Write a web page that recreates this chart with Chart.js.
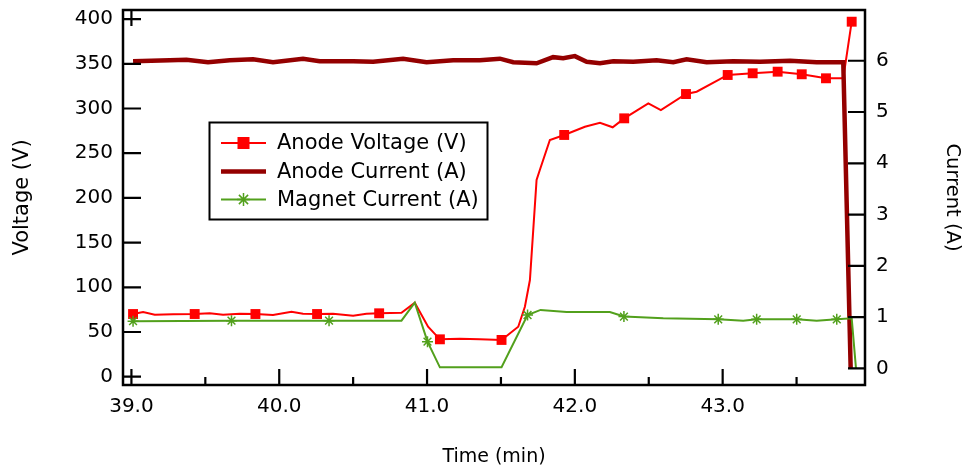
<!DOCTYPE html>
<html>
<head>
<meta charset="utf-8">
<script src="https://cdn.jsdelivr.net/npm/chart.js@4.4.1/dist/chart.umd.min.js"></script>
<style>
  html, body { margin: 0; padding: 0; background: #fff; }
  #wrap { width: 965px; height: 472px; position: relative; }
</style>
</head>
<body>
<div id="wrap"><canvas id="c"></canvas></div>
<script>
// ---------------- data ----------------
const seriesLabels = ['Anode Voltage (V)', 'Anode Current (A)', 'Magnet Current (A)'];

const voltageTime = [39.011, 39.079, 39.158, 39.282, 39.428, 39.530, 39.620, 39.733, 39.839, 39.958,
  40.083, 40.161, 40.256, 40.364, 40.500, 40.590, 40.676, 40.827, 40.917, 41.007,
  41.087, 41.222, 41.357, 41.504, 41.617, 41.662, 41.696, 41.741, 41.763, 41.831,
  41.928, 42.068, 42.170, 42.256, 42.334, 42.497, 42.582, 42.752, 42.824, 43.034,
  43.203, 43.372, 43.535, 43.699, 43.816, 43.873];
const voltageValues = [70.1, 72.4, 69.3, 69.8, 70.1, 70.9, 69.3, 70.5, 70.1, 69.0,
  72.7, 70.5, 70.1, 70.5, 68.2, 70.5, 70.9, 71.6, 82.8, 55.9,
  41.8, 42.5, 41.8, 41.1, 55.9, 78.3, 108.1, 220.0, 231.2, 264.8,
  270.4, 279.6, 284.1, 279.0, 289.0, 305.8, 298.3, 316.2, 318.8, 337.5,
  339.4, 341.2, 338.3, 333.8, 333.8, 397.1];
const voltageMarkerIdx = [0, 4, 8, 12, 16, 20, 23, 30, 34, 37, 39, 40, 41, 42, 43, 45];

const currentTime = [39.011, 39.259, 39.372, 39.518, 39.665, 39.823, 39.958, 40.161, 40.274, 40.500,
  40.635, 40.838, 40.997, 41.177, 41.357, 41.493, 41.583, 41.741, 41.853, 41.921,
  42.000, 42.080, 42.170, 42.260, 42.395, 42.553, 42.666, 42.756, 42.892, 43.072,
  43.253, 43.456, 43.636, 43.816, 43.866];
const currentValues = [5.99, 6.01, 6.02, 5.97, 6.01, 6.03, 5.97, 6.04, 5.99, 5.99,
  5.98, 6.04, 5.97, 6.01, 6.01, 6.04, 5.97, 5.95, 6.07, 6.05,
  6.09, 5.98, 5.95, 5.99, 5.98, 6.01, 5.97, 6.03, 5.97, 5.99,
  5.98, 6.00, 5.97, 5.97, 0.0];

const magnetTime = [39.011, 39.677, 40.337, 40.827, 40.917, 41.003, 41.087, 41.504, 41.680, 41.768,
  41.944, 42.237, 42.332, 42.598, 42.970, 43.139, 43.230, 43.501, 43.636, 43.772,
  43.873, 43.902];
const magnetValues = [0.92, 0.93, 0.93, 0.93, 1.28, 0.52, 0.02, 0.02, 1.04, 1.14,
  1.10, 1.10, 1.01, 0.975, 0.956, 0.928, 0.956, 0.956, 0.928, 0.956,
  0.975, 0.0];
const magnetMarkerIdx = [0, 1, 2, 5, 8, 12, 14, 16, 17, 19];

const xMajorTicks = [39, 40, 41, 42, 43];
const xMinorTicks = [39.5, 40.5, 41.5, 42.5, 43.5];
const voltageTicks = [0, 50, 100, 150, 200, 250, 300, 350, 400];
const currentTicks = [0, 1, 2, 3, 4, 5, 6];

// ---------------- styling ----------------
const RED = '#ff0000';
const DARKRED = '#940000';
const GREEN = '#52a01c';
const FONT = 'DejaVu Sans';

Chart.defaults.font.family = FONT;
Chart.defaults.color = '#000';

const toXY = (xs, ys) => xs.map((x, i) => ({ x: x, y: ys[i] }));

const framePlugin = {
  id: 'frameTicks',
  afterDatasetsDraw(chart) {
    const { ctx, chartArea: a, scales } = chart;
    ctx.save();
    ctx.strokeStyle = '#000';
    ctx.lineCap = 'butt';
    ctx.lineWidth = 2.2;
    ctx.beginPath();
    voltageTicks.forEach(v => {
      const y = scales.y.getPixelForValue(v);
      ctx.moveTo(a.left, y); ctx.lineTo(a.left + 18, y);
    });
    currentTicks.forEach(v => {
      const y = scales.y1.getPixelForValue(v);
      ctx.moveTo(a.right - 17, y); ctx.lineTo(a.right, y);
    });
    xMajorTicks.forEach(v => {
      const x = scales.x.getPixelForValue(v);
      ctx.moveTo(x, a.bottom); ctx.lineTo(x, a.bottom - 16);
    });
    xMinorTicks.forEach(v => {
      const x = scales.x.getPixelForValue(v);
      ctx.moveTo(x, a.bottom); ctx.lineTo(x, a.bottom - 8);
    });
    const x0 = scales.x.getPixelForValue(xMajorTicks[0]);
    ctx.moveTo(x0, a.top); ctx.lineTo(x0, a.top + 16);
    ctx.stroke();
    ctx.lineWidth = 2.5;
    ctx.strokeRect(a.left, a.top, a.right - a.left, a.bottom - a.top);
    ctx.restore();
  }
};

const legendPlugin = {
  id: 'boxLegend',
  afterDraw(chart) {
    const { ctx } = chart;
    const bx = 209.5, by = 122.5, bw = 278, bh = 97;
    const rows = [143, 171.5, 199.5];
    ctx.save();
    ctx.fillStyle = '#fff';
    ctx.fillRect(bx, by, bw, bh);
    ctx.strokeStyle = '#000';
    ctx.lineWidth = 2;
    ctx.strokeRect(bx, by, bw, bh);
    const lx0 = 221, lx1 = 266, mx = 243.5;
    chart.data.datasets.forEach((ds, i) => {
      const y = rows[i];
      ctx.strokeStyle = ds.borderColor;
      ctx.lineWidth = ds.borderWidth;
      ctx.beginPath(); ctx.moveTo(lx0, y); ctx.lineTo(lx1, y); ctx.stroke();
      if (ds.pointStyle === 'rect') {
        ctx.fillStyle = ds.pointBackgroundColor;
        ctx.fillRect(mx - 6, y - 6, 12, 12);
      } else if (ds.pointStyle === 'star') {
        const r = 6.5;
        ctx.lineWidth = 1.5;
        ctx.beginPath();
        ctx.moveTo(mx, y - r); ctx.lineTo(mx, y + r);
        ctx.moveTo(mx - r, y); ctx.lineTo(mx + r, y);
        const d = r * Math.SQRT1_2;
        ctx.moveTo(mx - d, y - d); ctx.lineTo(mx + d, y + d);
        ctx.moveTo(mx - d, y + d); ctx.lineTo(mx + d, y - d);
        ctx.stroke();
      }
      ctx.fillStyle = '#000';
      ctx.font = '21px "' + FONT + '"';
      ctx.textAlign = 'left';
      ctx.textBaseline = 'middle';
      ctx.fillText(ds.label, 277, y + 1);
    });
    ctx.restore();
  }
};

const noPadV = (w) => (s) => { s.width = w; s.paddingTop = 0; s.paddingBottom = 0; };

new Chart(document.getElementById('c'), {
  type: 'line',
  data: {
    datasets: [
      {
        label: seriesLabels[0],
        data: toXY(voltageTime, voltageValues),
        yAxisID: 'y',
        borderColor: RED,
        borderWidth: 2,
        pointStyle: 'rect',
        pointRadius: c => voltageMarkerIdx.includes(c.dataIndex) ? 7 : 0,
        pointBackgroundColor: RED,
        pointBorderColor: RED,
        pointBorderWidth: 0,
        tension: 0,
        order: 3
      },
      {
        label: seriesLabels[1],
        data: toXY(currentTime, currentValues),
        yAxisID: 'y1',
        borderColor: DARKRED,
        borderWidth: 4.5,
        pointRadius: 0,
        tension: 0,
        order: 2
      },
      {
        label: seriesLabels[2],
        data: toXY(magnetTime, magnetValues),
        yAxisID: 'y1',
        borderColor: GREEN,
        borderWidth: 2,
        pointStyle: 'star',
        pointRadius: c => magnetMarkerIdx.includes(c.dataIndex) ? 5.5 : 0,
        pointBorderColor: GREEN,
        pointBackgroundColor: GREEN,
        pointBorderWidth: 1.5,
        tension: 0,
        order: 1
      }
    ]
  },
  options: {
    responsive: true,
    maintainAspectRatio: false,
    animation: false,
    events: [],
    layout: { padding: { top: 10, left: 0, right: 0, bottom: 0 } },
    plugins: { legend: { display: false }, tooltip: { enabled: false } },
    scales: {
      x: {
        type: 'linear',
        position: 'bottom',
        min: 38.943,
        max: 43.963,
        grid: { display: false, drawTicks: false },
        border: { display: false },
        afterBuildTicks: s => { s.ticks = xMajorTicks.map(v => ({ value: v })); },
        afterFit: s => { s.height = 87; s.paddingLeft = 0; s.paddingRight = 0; },
        ticks: {
          autoSkip: false, maxRotation: 0, padding: 10,
          font: { size: 20, lineHeight: 1.2 },
          callback: v => Number(v).toFixed(1)
        },
        title: {
          display: true, text: 'Time (min)',
          font: { size: 19, lineHeight: 1 },
          padding: { top: 0, bottom: 5.5 }
        }
      },
      y: {
        type: 'linear',
        position: 'left',
        min: -9.3,
        max: 410.2,
        grid: { display: false, drawTicks: false },
        border: { display: false },
        afterBuildTicks: s => { s.ticks = voltageTicks.map(v => ({ value: v })); },
        afterFit: noPadV(123),
        ticks: { autoSkip: false, padding: 10, font: { size: 20 }, callback: v => String(v) },
        title: {
          display: true, text: 'Voltage (V)',
          font: { size: 21, lineHeight: 1 },
          padding: { top: 12.5, bottom: 0 }
        }
      },
      y1: {
        type: 'linear',
        position: 'right',
        min: -0.325,
        max: 6.99,
        grid: { display: false, drawTicks: false },
        border: { display: false },
        afterBuildTicks: s => { s.ticks = currentTicks.map(v => ({ value: v })); },
        afterFit: noPadV(100),
        ticks: { autoSkip: false, padding: 11, font: { size: 20 }, callback: v => String(v) },
        title: {
          display: true, text: 'Current (A)',
          font: { size: 19.5, lineHeight: 1 },
          padding: { top: 3, bottom: 0 }
        }
      }
    }
  },
  plugins: [framePlugin, legendPlugin]
});
</script>
</body>
</html>
